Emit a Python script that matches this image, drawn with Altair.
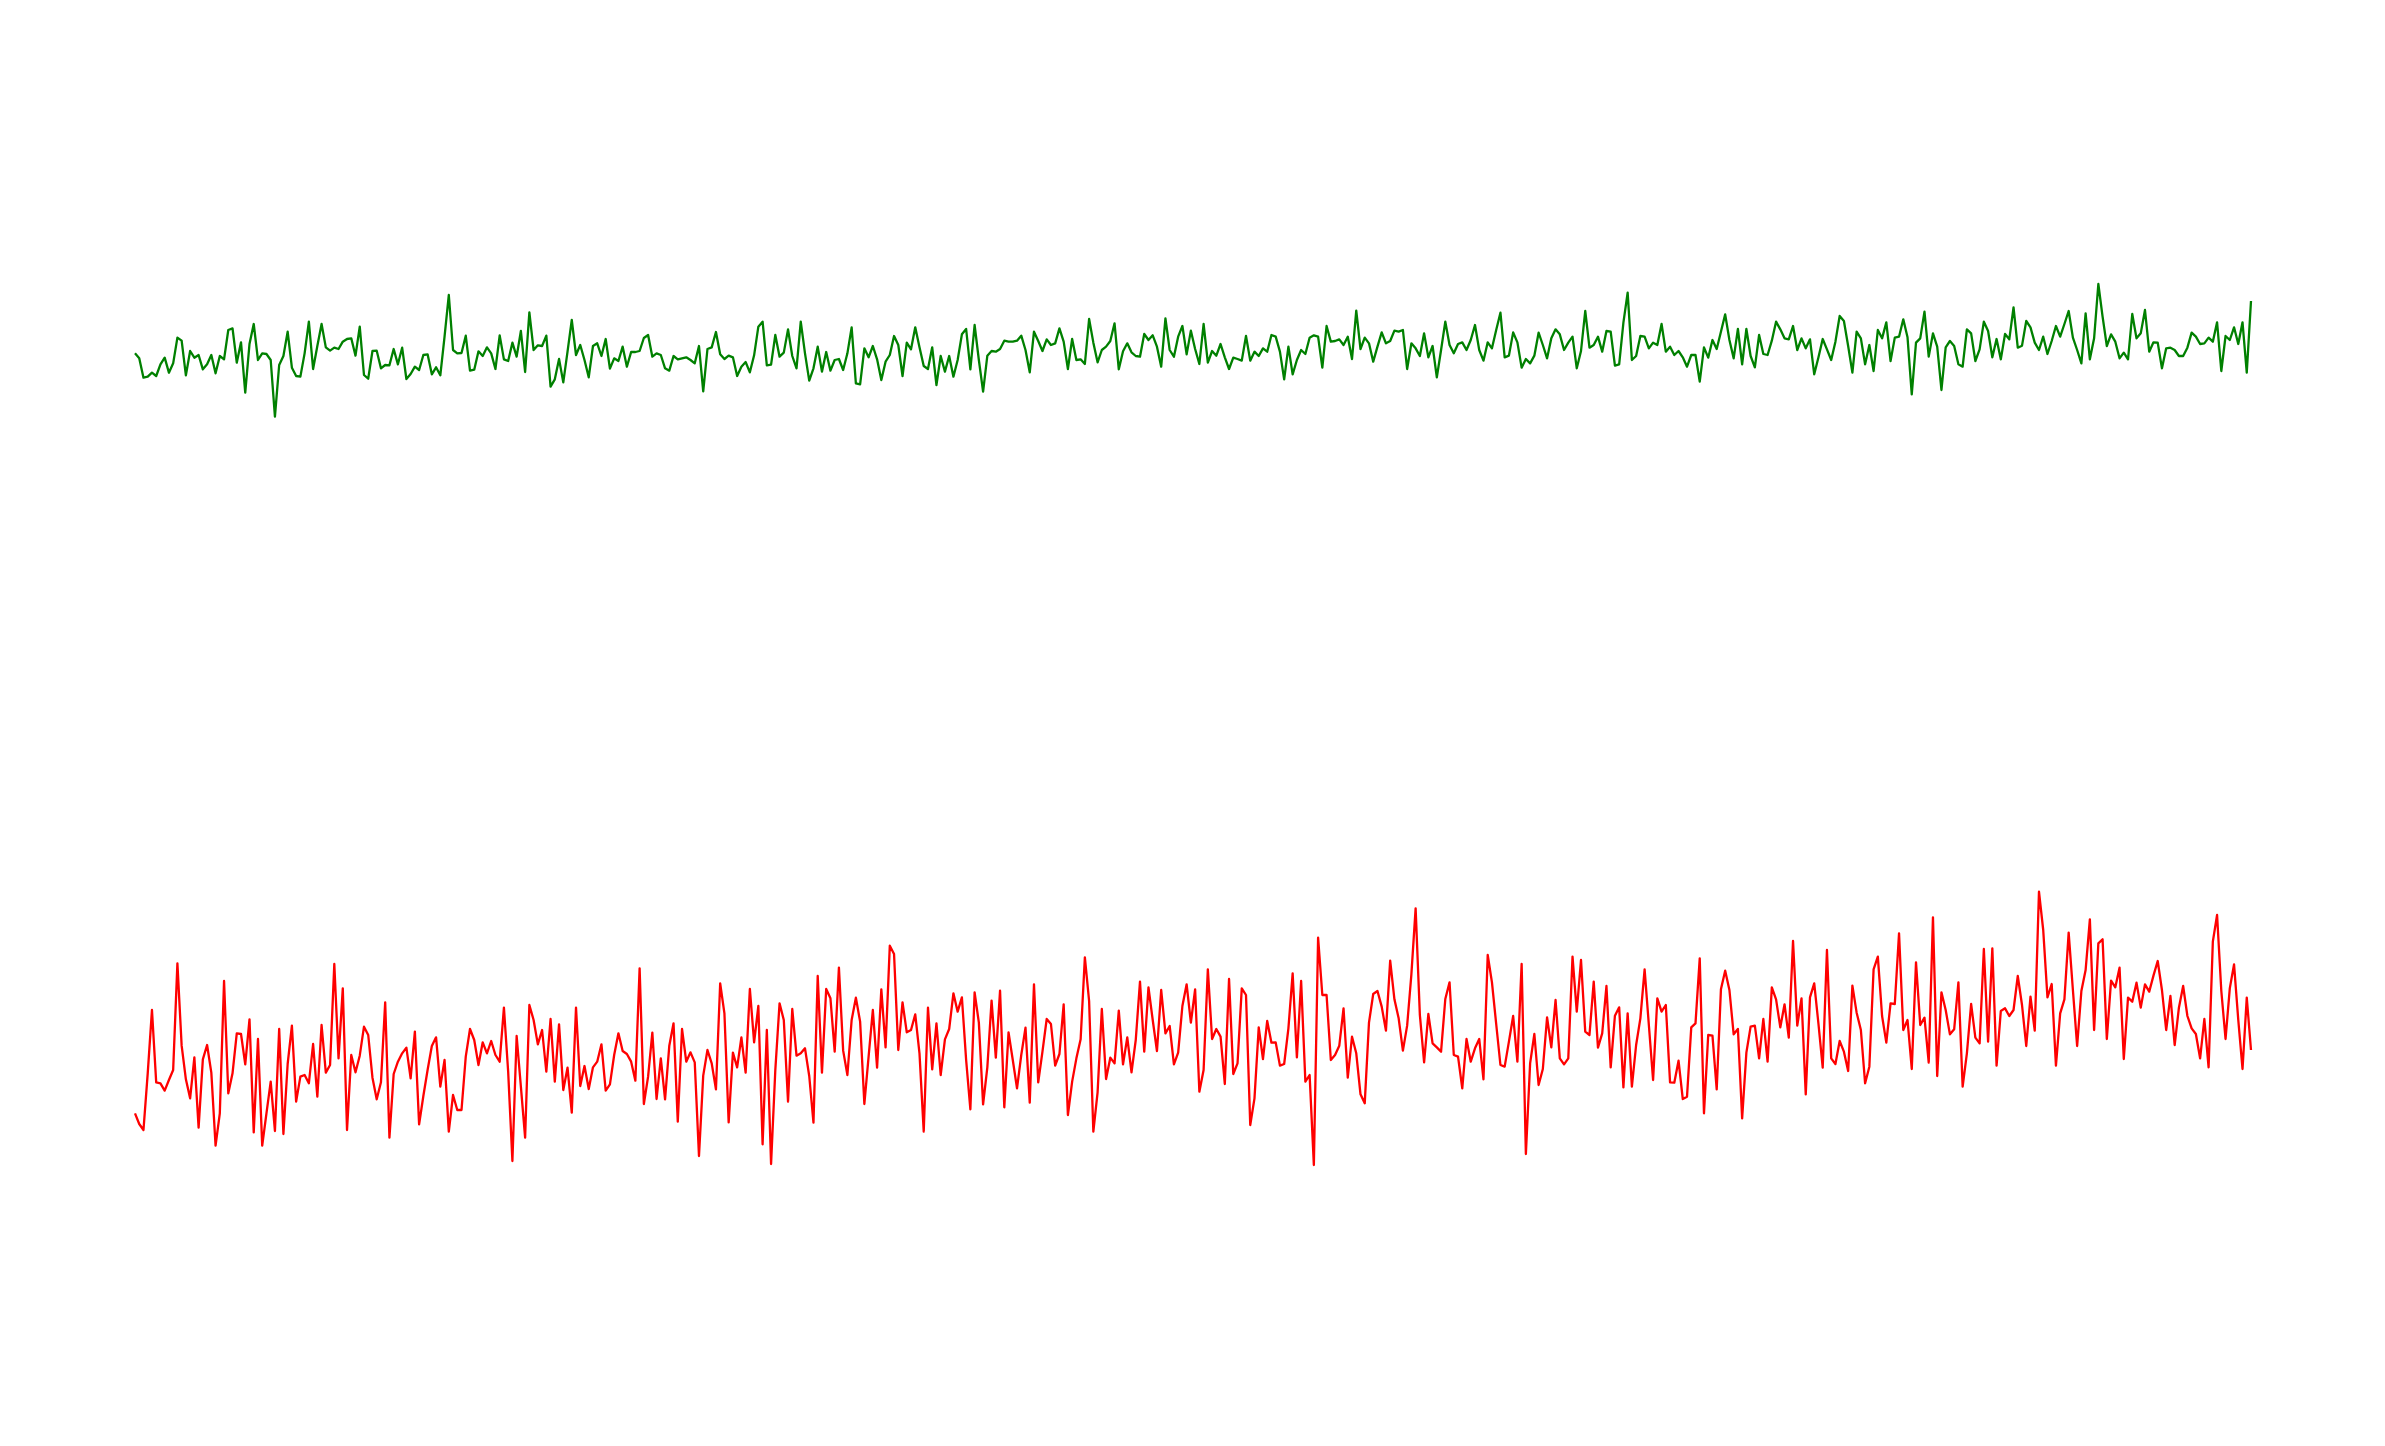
import altair as alt
import pandas as pd

# Green series (arbitrary units)
green = [
    0, -15, -73, -70, -58, -68, -33, -13, -58, -30,
    47, 38, -66, 7, -13, -5, -48, -33, -5, -60,
    -8, -18, 70, 75, -28, 33, -118, 28, 88, -20,
    0, -2, -20, -190, -35, -8, 65, -43, -68, -70,
    0, 95, -47, 22, 88, 18, 8, 17, 13, 35,
    43, 45, -7, 80, -65, -76, 7, 8, -45, -35,
    -36, 13, -33, 17, -77, -62, -40, -50, -5, -3,
    -63, -42, -66, 50, 175, 10, 0, 1, 53, -52,
    -49, 6, -8, 18,
    0, -47, 54, -18, -23, 32, -10, 67, -56, 123,
    10, 24, 22, 53, -100, -78, -17, -87, 5, 100,
    -5, 25, -20, -72, 22, 30, -8, 43, -46, -15,
    -23, 20, -40, 4, 4, 7, 46, 55, -10, 0,
    -5, -45, -52, -8, -18, -15, -12, -20, -30, 22,
    -114, 13, 18, 64, -3, -17, -7, -12, -68, -40,
    -26, -57, -6, 80, 95, -36, -34, 55, -10, 2,
    72, -8, -45, 95, 0, -82, -45, 20, -55, 4,
    -52, -20, -17, -50, 0,
    78, -90, -93, 15, -12, 22, -18, -80, -25, -5,
    52, 25, -68, 32, 12, 78, 18, -38, -47, 18,
    -95, -8, -55, -8, -70, -20, 57, 73, -48, 85,
    -20, -115, -7, 7, 5, 13, 38, 35, 35, 38,
    53, 10, -57, 65, 37, 7, 42, 25, 30, 75,
    35, -47, 43, -20, -18, -32, 103, 32, -27, 10,
    20, 37, 90, -48, 6, 30, 3, -8, -10, 58,
    40, 54, 20, -40, 105, 10, -10, 50, 82, -3,
    68, 13, -32, 88, -28,
    7, -7, 28, -12, -47, -13, -17, -22, 52, -22,
    5, -8, 15, 5, 55, 50, 5, -78, 20, -63,
    -20, 10, -2, 47, 54, 50, -43, 82, 35, 37,
    42, 25, 50, -17, 128, 13, 47, 30, -25, 20,
    63, 30, 37, 68, 65, 70, -47, 30, 15, -8,
    60, -12, 22, -72, 10, 95, 25, 0, 28, 33,
    10, 40, 85, 10, -22, 33, 15, 70, 122, -12,
    -7, 63, 33, -43, -17, -30, -7, 62, 25, -15,
    45, 72, 57, 10, 32,
    50, -45, 7, 127, 17, 25, 50, 5, 67, 65,
    -37, -33, 92, 182, -20, -8, 52, 50, 15, 32,
    25, 88, 5, 20, -5, 7, -12, -40, -5, -5,
    -85, 18, -13, 40, 13, 65, 117, 40, -15, 73,
    -33, 73, -8, -42, 55, -2, -5, 38, 95, 72,
    45, 42, 82, 10, 45, 15, 42, -63, -12, 43,
    12, -20, 35, 112, 97, 22, -58, 65, 45, -33,
    25, -53, 70, 45, 93, -23, 47, 50, 102, 48,
    -123, 32, 45, 125, -10,
    60, 20, -110, 18, 37, 22, -33, -40, 72, 60,
    -23, 12, 95, 67, -12, 43, -18, 58, 42, 138,
    17, 23, 97, 78, 32, 10, 50, -2, 37, 82,
    50, 88, 127, 47, 10, -30, 120, -18, 45, 208,
    110, 22, 57, 35, -15, 2, -18, 118, 45, 60,
    130, 5, 33, 32, -45, 15, 17, 10, -8, -8,
    17, 62, 50, 28, 30, 47, 35, 93, -53, 52,
    40, 78, 28, 93, -58, 157,
]

# Red series (arbitrary units)
red = [
    -200, -232, -250, -80, 110, -107, -110, -132, -100, -70,
    250, 3, -98, -155, -32, -243, -38, 5, -78, -297,
    -200, 197, -140, -80, 40, 38, -53, 82, -257, 23,
    -297, -200, -105, -253, 53, -262, -52, 63, -165, -90,
    -85, -110, 8, -150, 65, -78, -55, 248, -35, 175,
    -250, -25, -77, -27, 60, 35, -93, -158, -107, 133,
    -273, -82, -45, -20, -3, -95, 45, -233, -148, -70,
    2, 28, -120, -40, -255, -145, -190, -190, -30, 53,
    20, -55, 13, -20,
    17, -25, -45, 117, -75, -343, 32, -120, -273, 125,
    80, 7, 50, -75, 83, -105, 67, -130, -63, -198,
    117, -118, -58, -127, -62, -45, 7, -132, -113, -25,
    40, -13, -22, -45, -102, 235, -172, -90, 42, -157,
    -35, -158, 3, 70, -225, 53, -45, -17, -47, -328,
    -87, -10, -50, -128, 190, 100, -227, -18, -62, 28,
    -78, 173, 13, 122, -293, 50, -352, -70, 130, 80,
    -165, 113, -27, -20, -5, -88, -228, 212, -78, 173,
    145, -15, 237, -12, -85,
    80, 147, 75, -172, -30, 110, -63, 172, -2, 303,
    278, -10, 133, 43, 50, 97, -20, -255, 117, -68,
    70, -85, 22, 53, 160, 105, 148, -40, -188, 163,
    72, -173, -62, 138, -33, 168, -182, 43, -40, -125,
    -25, 57, -168, 187, -107, -15, 83, 68, -57, -22,
    127, -205, -105, -35, 22, 268, 137, -255, -137, 113,
    -97, -33, -50, 108, -53, 28, -77, 20, 195, -15,
    178, 80, -13, 170, 40, 62, -53, -18, 122, 187,
    72, 172, -135, -70, 232,
    23, 53, 30, -112, 203, -82, -50, 175, 155, -235,
    -155, 58, -37, 77, 12, 13, -57, -52, 55, 220,
    -32, 197, -105, -85, -355, 327, 155, 155, -40, -25,
    3, 115, -93, 30, -20, -143, -170, 72, 158, 167,
    120, 48, 258, 142, 85, -12, 63, 217, 415, 95,
    -47, 98, 10, -2, -15, 143, 193, -25, -30, -125,
    23, -45, -5, 23, -98, 275, 193, 68, -55, -60,
    15, 92, -45, 248, -322, -50, 38, -115, -67, 88,
    -2, 140, -35, -53, -35,
    270, 105, 260, 45, 35, 195, -3, 40, 182, -62,
    93, 118, -122, 100, -120, 5, 85, 232, 65, -100,
    145, 105, 125, -107, -108, -42, -157, -150, 58, 70,
    265, -200, 35, 33, -128, 172, 228, 170, 37, 53,
    -215, -18, 60, 63, -35, 83, -45, 178, 142, 58,
    127, 27, 317, 63, 145, -143, 148, 190, 68, -63,
    290, -35, -52, 17, -15, -73, 183, 102, 50, -110,
    -60, 232, 270, 92, 12, 130, 128, 340, 50, 80,
    -67, 253, 65, 87, -48,
    388, -88, 163, 110, 37, 52, 193, -120, -20, 128,
    27, 10, 293, 15, 295, -57, 107, 115, 92, 110,
    212, 125, 2, 150, 48, 465, 350, 148, 188, -57,
    100, 142, 342, 170, 2, 167, 230, 382, 50, 310,
    322, 23, 198, 178, 237, -37, 147, 135, 192, 117,
    187, 165, 213, 257, 170, 50, 152, 5, 117, 182,
    92, 55, 38, -35, 83, -62, 315, 395, 167, 23,
    175, 247, 80, -67, 147, -10,
]

n = min(len(green), len(red))
df = pd.DataFrame({"i": list(range(n)), "green": green[:n], "red": red[:n]})

x_enc = alt.X("i:Q", scale=alt.Scale(domain=[0, n - 1], nice=False, zero=False), axis=None)

g_line = alt.Chart(df).mark_line(color="#008000", strokeWidth=2.3, strokeJoin="round").encode(
    x=x_enc,
    y=alt.Y("green:Q", scale=alt.Scale(domain=[-2978, 760], nice=False, zero=False), axis=None),
)
r_line = alt.Chart(df).mark_line(color="#ff0000", strokeWidth=2.3, strokeJoin="round").encode(
    x=x_enc,
    y=alt.Y("red:Q", scale=alt.Scale(domain=[-898, 2840], nice=False, zero=False), axis=None),
)

chart = (
    alt.layer(g_line, r_line)
    .resolve_scale(y="independent")
    .properties(
        width=2116,
        height=1246,
        padding={"left": 125, "top": 92, "right": 0, "bottom": 0},
        background="white",
    )
    .configure_view(stroke=None)
)

chart.save("out.html", embed_options={"renderer": "svg", "actions": False})
